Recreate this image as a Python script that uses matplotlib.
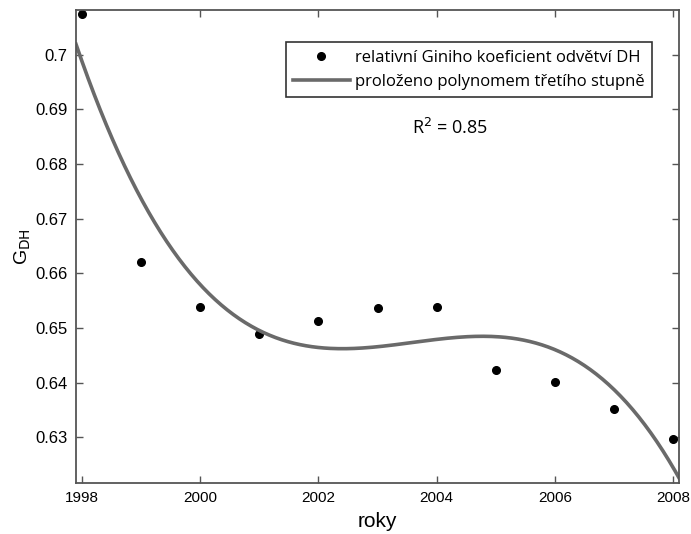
import matplotlib.pyplot as plt
import numpy as np

# roky a relativní Giniho koeficient odvětví DH
roky = [1998, 1999, 2000, 2001, 2002, 2003, 2004, 2005, 2006, 2007, 2008]
gini = [0.7075, 0.6621, 0.6538, 0.6489, 0.6513, 0.6537, 0.6538, 0.6423, 0.6401, 0.6352, 0.6297]
xticks = [1998, 2000, 2002, 2004, 2006, 2008]
yticks = [0.63, 0.64, 0.65, 0.66, 0.67, 0.68, 0.69, 0.70]
ytick_labels = ["0.63", "0.64", "0.65", "0.66", "0.67", "0.68", "0.69", "0.7"]

x = np.array(roky, dtype=float)
y = np.array(gini)

# kubický polynom proložený body
koef = np.polyfit(x - 2003, y, 3)
xs = np.linspace(1997.9, 2008.1, 300)
ys = np.polyval(koef, xs - 2003)

plt.rcParams['font.family'] = ['Liberation Sans', 'DejaVu Sans']

fig = plt.figure(figsize=(6.91, 5.34), dpi=100)
ax = fig.add_axes([76/691, 51/534, 603/691, 473/534])

ax.plot(x, y, 'o', color='black', markersize=5.5, label='relativní Giniho koeficient odvětví DH')
ax.plot(xs, ys, color='#6a6a6a', linewidth=2.6, label='proloženo polynomem třetího stupně')

ax.set_xlim(1997.9, 2008.1)
ax.set_ylim(0.6216, 0.7082)
ax.set_xticks(xticks)
ax.set_yticks(yticks)
ax.set_yticklabels(ytick_labels)
ax.tick_params(direction='in', top=True, right=True, length=5, width=1,
               color='#555555', labelsize=12, pad=6)
ax.tick_params(axis='x', labelsize=11)
for s in ax.spines.values():
    s.set_color('#555555')
    s.set_linewidth(1.3)

ax.set_xlabel('roky', fontsize=15, labelpad=5)
ax.set_ylabel('G$_{\\mathrm{DH}}$', fontsize=14, labelpad=2)

leg = ax.legend(loc='upper right', bbox_to_anchor=(0.955, 0.932),
                prop={'family': 'Open Sans', 'size': 12}, frameon=True, fancybox=False,
                handlelength=3.4, borderpad=0.45, labelspacing=0.5, handletextpad=0.3,
                borderaxespad=0)
leg.get_frame().set_edgecolor('black')
leg.get_frame().set_linewidth(1.2)

ax.text(0.62, 0.75, 'R$^2$ = 0.85', transform=ax.transAxes, ha='center', va='center',
        fontsize=13, family='Open Sans')

fig.savefig('out.png', dpi=100)
